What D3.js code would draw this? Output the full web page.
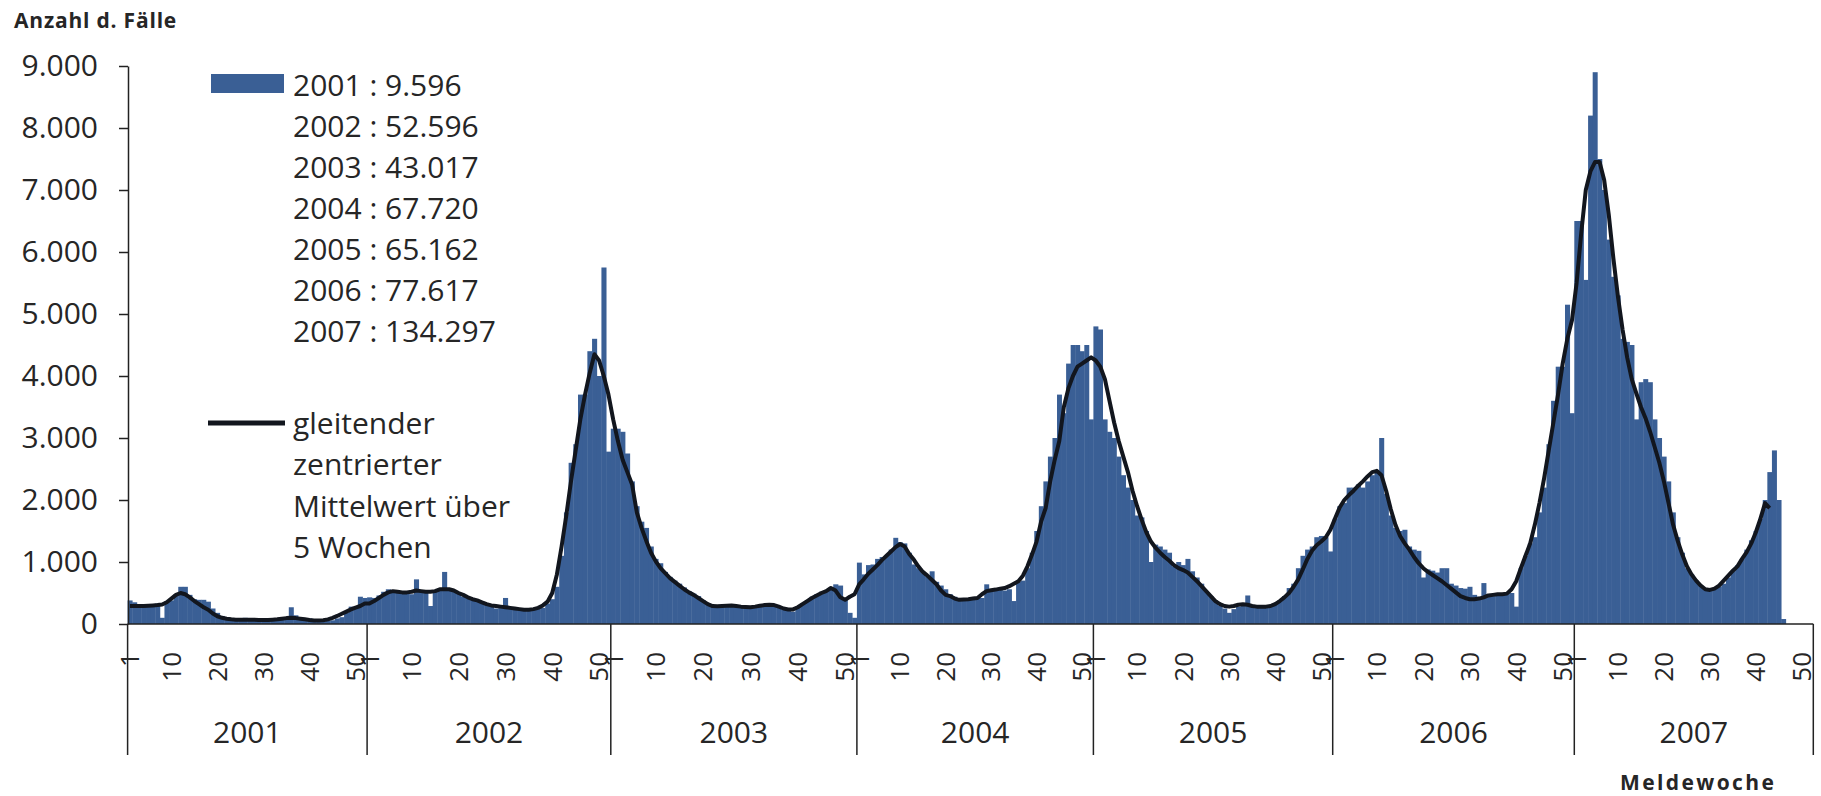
<!DOCTYPE html>
<html>
<head>
<meta charset="utf-8">
<script src="https://cdn.jsdelivr.net/npm/d3@7"></script>
<style>
  body { margin: 0; background: #fff; }
  svg { display: block; font-family: "Open Sans", sans-serif; }
</style>
</head>
<body>
<svg width="1821" height="796"></svg>
<script>
// Weekly case counts per year (Meldewoche 1..52)
let cases2001 = [380, 350, 290, 300, 310, 290, 330, 100, 370, 380,
                 480, 600, 600, 470, 400, 390, 390, 360, 250, 180,
                 130, 110, 90, 80, 70, 100, 80, 90, 60, 60,
                 50, 60, 50, 70, 90, 270, 140, 110, 80, 90,
                 60, 40, 40, 50, 60, 90, 110, 180, 280, 260,
                 440, 420];
let cases2002 = [430, 420, 460, 520, 560, 540, 530, 500, 520, 480,
                 720, 520, 500, 290, 540, 560, 840, 560, 530, 500,
                 440, 420, 400, 380, 360, 320, 300, 250, 260, 420,
                 250, 240, 230, 220, 220, 230, 240, 260, 330, 400,
                 600, 1100, 1800, 2600, 2900, 3700, 3700, 4400, 4600, 4000,
                 5750, 2780];
let cases2003 = [3150, 3150, 3100, 2750, 2300, 1900, 1650, 1550, 1250, 1050,
                 980, 840, 760, 700, 650, 590, 530, 490, 450, 380,
                 330, 300, 290, 300, 310, 300, 280, 290, 270, 260,
                 260, 290, 310, 320, 290, 270, 230, 220, 200, 280,
                 330, 380, 440, 480, 520, 540, 560, 640, 620, 400,
                 180, 100];
let cases2004 = [990, 800, 950, 960, 1050, 1080, 1100, 1200, 1390, 1320,
                 1300, 1150, 960, 900, 820, 760, 850, 680, 620, 560,
                 480, 440, 400, 390, 420, 410, 430, 420, 640, 530,
                 540, 560, 540, 560, 370, 680, 700, 900, 1150, 1500,
                 1900, 2300, 2700, 3000, 3700, 3400, 4200, 4500, 4500, 4400,
                 4500, 3300];
let cases2005 = [4800, 4750, 3300, 3100, 3000, 2700, 2400, 2200, 2000, 1750,
                 1720, 1500, 1000, 1280, 1250, 1200, 1150, 930, 1000, 950,
                 1050, 850, 750, 650, 520, 450, 380, 300, 250, 180,
                 240, 280, 300, 460, 300, 280, 270, 280, 300, 340,
                 380, 450, 580, 650, 900, 1100, 1200, 1250, 1400, 1420,
                 1400, 1170];
let cases2006 = [1700, 1900, 1950, 2200, 2200, 2250, 2200, 2300, 2400, 2450,
                 3000, 2100, 1750, 1550, 1500, 1520, 1250, 1200, 1180, 750,
                 880, 860, 830, 900, 900, 650, 620, 580, 570, 600,
                 470, 440, 660, 460, 450, 480, 490, 480, 500, 280,
                 900, 1100, 1300, 1400, 1800, 2200, 2900, 3600, 4150, 4150,
                 5150, 3400];
let cases2007 = [6500, 6500, 5550, 8200, 8900, 7500, 7000, 6200, 5600, 5300,
                 4600, 4550, 4500, 3300, 3900, 3950, 3900, 3300, 3000, 2700,
                 2300, 1800, 1400, 1150, 900, 800, 700, 620, 570, 560,
                 570, 600, 650, 750, 850, 950, 1050, 1200, 1350, 1500,
                 1700, 2000, 2450, 2800, 2000, 80];

// gleitender zentrierter Mittelwert über 5 Wochen
let mean2001 = [290, 290, 290, 290, 295, 300, 305, 315, 350, 410,
                470, 500, 480, 430, 370, 320, 270, 230, 170, 125,
                100, 85, 75, 70, 70, 70, 70, 70, 65, 65,
                65, 70, 75, 85, 95, 100, 95, 85, 75, 65,
                58, 55, 60, 75, 100, 130, 165, 200, 235, 265,
                290, 330];
let mean2002 = [330, 370, 420, 470, 510, 530, 520, 510, 510, 520,
                540, 530, 520, 520, 530, 560, 560, 560, 540, 500,
                470, 430, 400, 380, 350, 320, 300, 290, 280, 270,
                260, 250, 240, 230, 230, 240, 260, 300, 360, 500,
                800, 1250, 1750, 2300, 2800, 3300, 3700, 4050, 4350, 4250,
                4000, 3700];
let mean2003 = [3300, 2950, 2650, 2450, 2250, 1800, 1550, 1340, 1150, 1010,
                900, 820, 740, 680, 620, 560, 510, 470, 420, 370,
                320, 290, 285, 290, 295, 300, 290, 280, 275, 270,
                280, 295, 305, 310, 305, 280, 250, 235, 235, 270,
                320, 370, 420, 460, 500, 530, 580, 540, 430, 390,
                440, 480];
let mean2004 = [640, 720, 810, 880, 950, 1030, 1100, 1170, 1240, 1290,
                1250, 1130, 1040, 930, 840, 780, 710, 640, 540, 470,
                450, 410, 390, 395, 400, 410, 420, 480, 530, 545,
                555, 570, 580, 610, 650, 690, 780, 930, 1120, 1330,
                1650, 1870, 2300, 2650, 2950, 3500, 3800, 4000, 4150, 4200,
                4250, 4300];
let mean2005 = [4250, 4150, 3950, 3600, 3250, 2950, 2700, 2450, 2150, 1900,
                1680, 1480, 1330, 1230, 1150, 1080, 1020, 950, 900, 870,
                830, 760, 690, 610, 530, 450, 370, 320, 290, 280,
                290, 310, 320, 310, 290, 280, 280, 280, 290, 320,
                370, 430, 500, 600, 720, 880, 1050, 1180, 1270, 1330,
                1400, 1520];
let mean2006 = [1700, 1880, 2000, 2080, 2150, 2230, 2300, 2380, 2450, 2470,
                2400, 2150, 1850, 1600, 1420, 1300, 1200, 1080, 980, 900,
                840, 790, 740, 690, 630, 570, 510, 450, 420, 400,
                400, 410, 430, 460, 470, 480, 480, 490, 560, 690,
                900, 1100, 1300, 1600, 1950, 2350, 2800, 3250, 3700, 4200,
                4600, 4900];
let mean2007 = [5500, 6300, 7000, 7300, 7450, 7450, 7160, 6600, 5900, 5280,
                4750, 4300, 3950, 3720, 3500, 3320, 3100, 2850, 2600, 2300,
                1950, 1600, 1340, 1120, 930, 800, 700, 620, 560, 550,
                570, 620, 700, 780, 860, 930, 1050, 1160, 1300, 1480,
                1700, 1950, 1870];

let years = [2001, 2002, 2003, 2004, 2005, 2006, 2007];
let yearTotals = [9596, 52596, 43017, 67720, 65162, 77617, 134297];
let weekTicks = [1, 10, 20, 30, 40, 50];
let yTicks = [0, 1000, 2000, 3000, 4000, 5000, 6000, 7000, 8000, 9000];
let lineLegend = ["gleitender", "zentrierter", "Mittelwert über", "5 Wochen"];

let casesByYear = [cases2001, cases2002, cases2003, cases2004, cases2005, cases2006, cases2007];
let meanByYear = [mean2001, mean2002, mean2003, mean2004, mean2005, mean2006, mean2007];

let weeksPerYear = 52;
let barColor = "#3a5f95";
let lineColor = "#12161e";
let textColor = "#262626";

let de = d3.formatLocale({ decimal: ",", thousands: ".", grouping: [3], currency: ["", " €"] });
let fmt = de.format(",d");

// Flatten into one running week index
let bars = [];
let meanPoints = [];
years.forEach((year, yi) => {
    casesByYear[yi].forEach((v, wi) => bars.push({ i: yi * weeksPerYear + wi, v: v }));
    meanByYear[yi].forEach((v, wi) => meanPoints.push({ i: yi * weeksPerYear + wi, v: v }));
});

let svg = d3.select("svg");
svg.append("rect").attr("width", 1821).attr("height", 796).attr("fill", "#fff");

// Year boundaries are slightly uneven in the original, so piecewise linear
let yearEdges = years.map((d, i) => i * weeksPerYear).concat([years.length * weeksPerYear]);
let x = d3.scaleLinear()
    .domain(yearEdges)
    .range([127.6, 367.1, 610.8, 856.9, 1093.4, 1332.7, 1574.3, 1813.3]);
let y = d3.scaleLinear().domain([0, 9000]).range([624, 66]);

let plot = svg.append("g").attr("class", "plot");

// Bars (adjacent, no gap)
plot.selectAll("rect.bar")
    .data(bars)
    .join("rect")
    .attr("class", "bar")
    .attr("x", d => x(d.i))
    .attr("width", d => x(d.i + 1) - x(d.i) + 0.4)
    .attr("y", d => y(d.v))
    .attr("height", d => y(0) - y(d.v))
    .attr("fill", barColor);

// Moving average
let line = d3.line()
    .x(d => x(d.i + 0.5))
    .y(d => y(d.v));

plot.append("path")
    .datum(meanPoints)
    .attr("d", line)
    .attr("fill", "none")
    .attr("stroke", lineColor)
    .attr("stroke-width", 4)
    .attr("stroke-linejoin", "round");

// Y axis
let yAxis = d3.axisLeft(y)
    .tickValues(yTicks)
    .tickFormat(fmt)
    .tickSize(9)
    .tickSizeOuter(0)
    .tickPadding(21);

let yAxisG = svg.append("g")
    .attr("transform", "translate(128,0)")
    .call(yAxis);
yAxisG.select(".domain").attr("stroke", "#222").attr("stroke-width", 1.5);
yAxisG.selectAll(".tick line").attr("stroke", "#222").attr("stroke-width", 1.5);
yAxisG.selectAll(".tick text")
    .attr("fill", textColor)
    .style("font-size", "30px")
    .style("font-family", "'Open Sans', sans-serif");

// X baseline
svg.append("line")
    .attr("x1", x(0)).attr("x2", x(yearEdges[yearEdges.length - 1]))
    .attr("y1", y(0)).attr("y2", y(0))
    .attr("stroke", "#222").attr("stroke-width", 1.5);

// Year separators
svg.append("g").selectAll("line")
    .data(yearEdges)
    .join("line")
    .attr("x1", d => x(d)).attr("x2", d => x(d))
    .attr("y1", y(0)).attr("y2", 755)
    .attr("stroke", "#222").attr("stroke-width", 1.5);

// Week labels (rotated)
let weekLabels = [];
years.forEach((year, yi) => {
    weekTicks.forEach(w => weekLabels.push({ i: yi * weeksPerYear + w - 1, w: w }));
});

svg.append("g").selectAll("text")
    .data(weekLabels)
    .join("text")
    .attr("transform", d => `translate(${x(d.i + 0.5)},652) rotate(-90)`)
    .attr("text-anchor", "end")
    .attr("dy", "0.36em")
    .attr("fill", textColor)
    .style("font-size", "26px")
    .text(d => d.w);

// Year labels
svg.append("g").selectAll("text")
    .data(years)
    .join("text")
    .attr("x", (d, i) => (x(yearEdges[i]) + x(yearEdges[i + 1])) / 2)
    .attr("y", 732)
    .attr("dy", "0.35em")
    .attr("text-anchor", "middle")
    .attr("fill", textColor)
    .style("font-size", "30px")
    .text(d => d);

// Axis titles
svg.append("text")
    .attr("x", 14).attr("y", 21).attr("dy", "0.35em")
    .attr("fill", textColor)
    .style("font-size", "21px").style("font-weight", "bold").style("letter-spacing", "0.8px")
    .text("Anzahl d. Fälle");

svg.append("text")
    .attr("x", 1620).attr("y", 783).attr("dy", "0.35em")
    .attr("fill", textColor)
    .style("font-size", "21px").style("font-weight", "bold").style("letter-spacing", "2.4px")
    .text("Meldewoche");

// Legend
let legend = svg.append("g").attr("class", "legend");
legend.append("rect")
    .attr("x", 211).attr("y", 74).attr("width", 73).attr("height", 19)
    .attr("fill", barColor);

legend.selectAll("text.total")
    .data(years)
    .join("text")
    .attr("class", "total")
    .attr("x", 293)
    .attr("y", (d, i) => 85 + i * 41)
    .attr("dy", "0.35em")
    .attr("fill", textColor)
    .style("font-size", "30px")
    .text((d, i) => d + " : " + fmt(yearTotals[i]));

legend.append("line")
    .attr("x1", 208).attr("x2", 285)
    .attr("y1", 423).attr("y2", 423)
    .attr("stroke", lineColor).attr("stroke-width", 5);

legend.selectAll("text.mean")
    .data(lineLegend)
    .join("text")
    .attr("class", "mean")
    .attr("x", 293)
    .attr("y", (d, i) => 423 + i * 41.5)
    .attr("dy", "0.35em")
    .attr("fill", textColor)
    .style("font-size", "30px")
    .text(d => d);
</script>
</body>
</html>
